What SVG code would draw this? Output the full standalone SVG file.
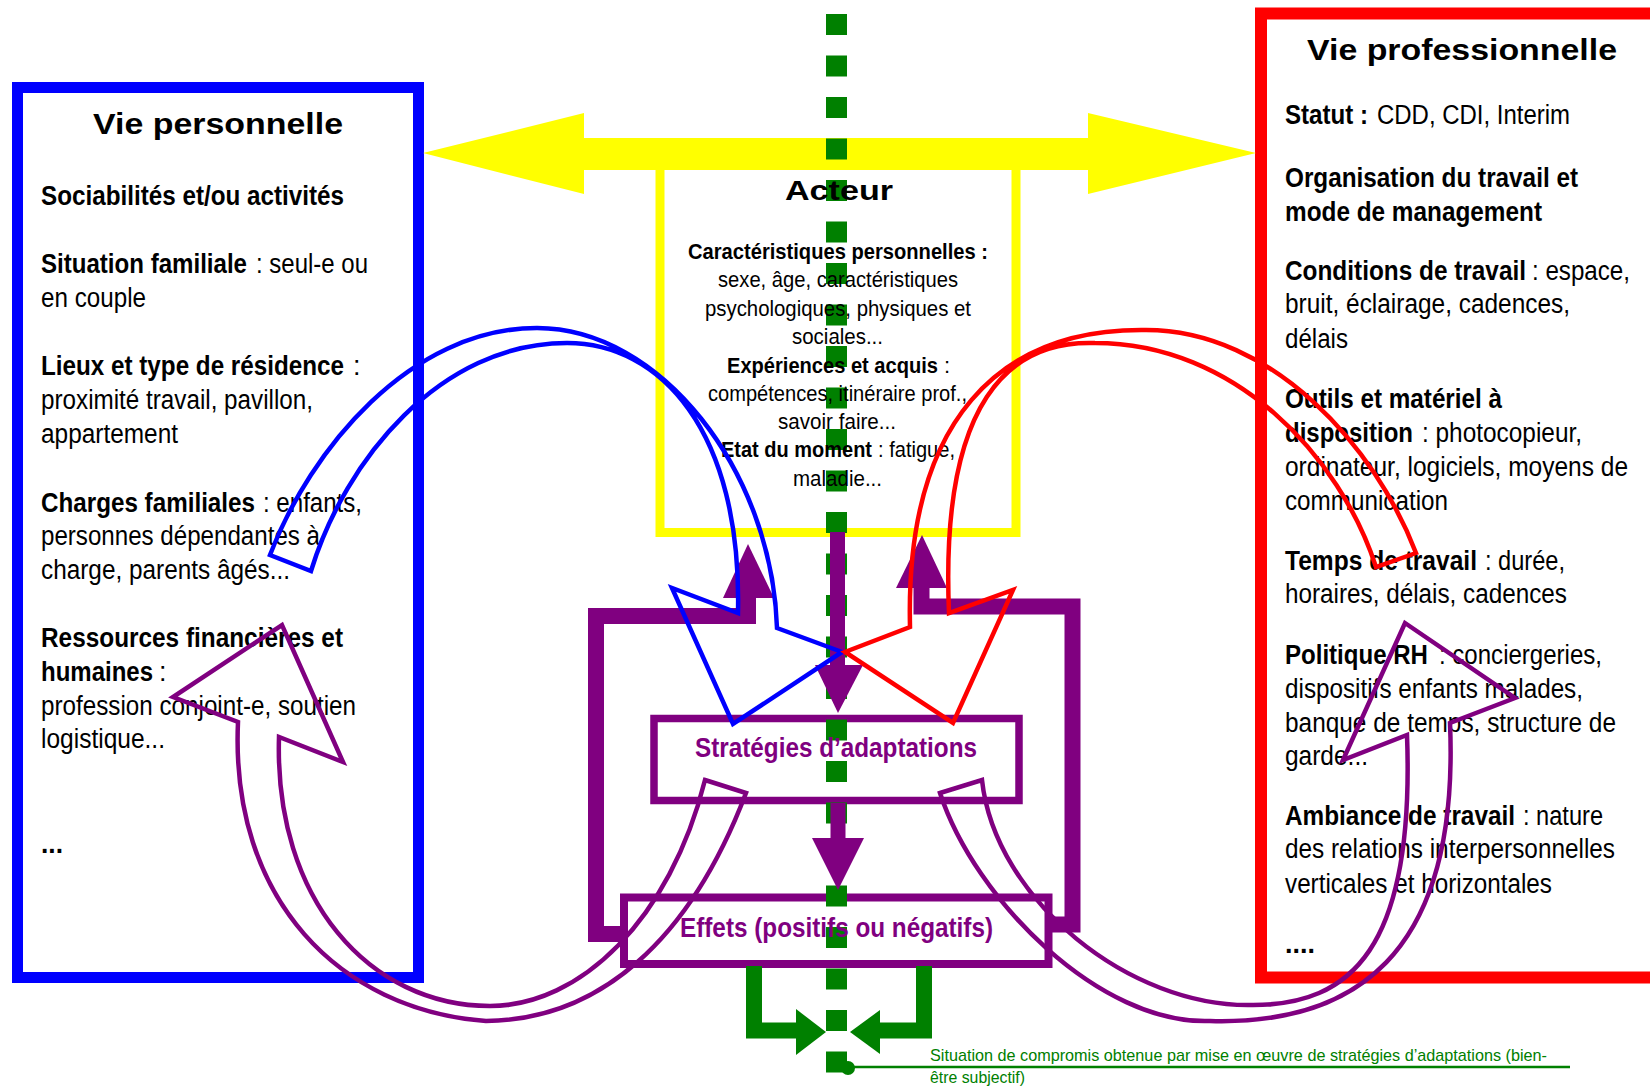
<svg xmlns="http://www.w3.org/2000/svg" width="1650" height="1086" viewBox="0 0 1650 1086">
<style>
.t{font-family:"Liberation Sans Narrow","Liberation Sans",Arial,sans-serif;font-size:27px;fill:#000}
.b{font-weight:bold}
.h{font-family:"Liberation Sans",Arial,sans-serif;font-weight:bold;font-size:29px;fill:#000}
.a{font-size:22px}
.p{fill:#800080;font-weight:bold;font-size:28px}
.g{fill:#008000;font-size:17px}
.box{fill:none}
.out{fill:none;stroke-width:4.5;stroke-linejoin:miter}
.thick{fill:none;stroke:#800080;stroke-width:16;stroke-linejoin:miter}
.gthick{fill:none;stroke:#008000;stroke-width:16;stroke-linejoin:miter}
</style>
<rect width="1650" height="1086" fill="#fff"/>

<g id="vie-personnelle">
<rect class="box" x="17.5" y="87.5" width="401" height="890" stroke="#0000FF" stroke-width="11"/>
</g>
<g id="vie-professionnelle">
<rect class="box" x="1261" y="13.5" width="410" height="964" stroke="#FF0000" stroke-width="12"/>
</g>
<g id="acteur">
<rect class="box" x="660" y="165.5" width="356" height="367" stroke="#FFFF00" stroke-width="9"/>
</g>

<g id="strategies">
<rect class="box" x="654" y="718.5" width="365" height="82" stroke="#800080" stroke-width="7.5"/>
</g>
<g id="effets">
<rect class="box" x="624" y="897.5" width="424.5" height="66.5" stroke="#800080" stroke-width="8"/>
</g>

<g id="connectors">
<polygon points="423,153 584,113 584,138 1088,138 1088,113 1256,153 1088,194 1088,170 584,170 584,194" fill="#FFFF00"/>
<polyline class="thick" points="748,597 748,616 596,616 596,934 624,934"/>
<polygon points="723,598 774,598 748,544" fill="#800080"/>
<polyline class="thick" points="921.5,588 921.5,606.5 1072.5,606.5 1072.5,924.5 1049,924.5"/>
<polygon points="896,588 947,588 922,535" fill="#800080"/>
<line x1="836.5" y1="14" x2="836.5" y2="1072.5" stroke="#008000" stroke-width="21" stroke-dasharray="21 20.5"/>
<line x1="837.5" y1="532" x2="837.5" y2="667" stroke="#800080" stroke-width="15"/>
<polygon points="815,665 863,665 838,713" fill="#800080"/>
<line x1="838" y1="803" x2="838" y2="840" stroke="#800080" stroke-width="15"/>
<polygon points="812,838 864,838 838,890" fill="#800080"/>
</g>

<g id="textes-personnelle">
<text class="h" x="93" y="134" textLength="250" lengthAdjust="spacingAndGlyphs">Vie personnelle</text>
<text class="t b" x="41" y="205" textLength="303" lengthAdjust="spacingAndGlyphs">Sociabilités et/ou activités</text>
<text class="t b" x="41" y="273" textLength="206" lengthAdjust="spacingAndGlyphs">Situation familiale</text>
<text class="t" x="256" y="273" textLength="112" lengthAdjust="spacingAndGlyphs">: seul-e ou</text>
<text class="t" x="41" y="307" textLength="105" lengthAdjust="spacingAndGlyphs">en couple</text>
<text class="t b" x="41" y="375" textLength="303" lengthAdjust="spacingAndGlyphs">Lieux et type de résidence</text>
<text class="t" x="353" y="375">:</text>
<text class="t" x="41" y="409" textLength="272" lengthAdjust="spacingAndGlyphs">proximité travail, pavillon,</text>
<text class="t" x="41" y="443" textLength="137" lengthAdjust="spacingAndGlyphs">appartement</text>
<text class="t b" x="41" y="512" textLength="214" lengthAdjust="spacingAndGlyphs">Charges familiales</text>
<text class="t" x="263" y="512" textLength="99" lengthAdjust="spacingAndGlyphs">: enfants,</text>
<text class="t" x="41" y="545" textLength="279" lengthAdjust="spacingAndGlyphs">personnes dépendantes à</text>
<text class="t" x="41" y="579" textLength="249" lengthAdjust="spacingAndGlyphs">charge, parents âgés...</text>
<text class="t b" x="41" y="647" textLength="302" lengthAdjust="spacingAndGlyphs">Ressources financières et</text>
<text class="t b" x="41" y="681" textLength="112" lengthAdjust="spacingAndGlyphs">humaines</text>
<text class="t" x="159" y="681">:</text>
<text class="t" x="41" y="715" textLength="315" lengthAdjust="spacingAndGlyphs">profession conjoint-e, soutien</text>
<text class="t" x="41" y="748" textLength="124" lengthAdjust="spacingAndGlyphs">logistique...</text>
<text class="t b" x="41" y="853" textLength="22" lengthAdjust="spacingAndGlyphs">...</text>
</g>

<g id="textes-professionnelle">
<text class="h" x="1307" y="60" textLength="310" lengthAdjust="spacingAndGlyphs">Vie professionnelle</text>
<text class="t b" x="1285" y="124" textLength="83" lengthAdjust="spacingAndGlyphs">Statut :</text>
<text class="t" x="1377" y="124" textLength="193" lengthAdjust="spacingAndGlyphs">CDD, CDI, Interim</text>
<text class="t b" x="1285" y="187" textLength="293" lengthAdjust="spacingAndGlyphs">Organisation du travail et</text>
<text class="t b" x="1285" y="221" textLength="257" lengthAdjust="spacingAndGlyphs">mode de management</text>
<text class="t b" x="1285" y="280" textLength="241" lengthAdjust="spacingAndGlyphs">Conditions de travail</text>
<text class="t" x="1532" y="280" textLength="98" lengthAdjust="spacingAndGlyphs">: espace,</text>
<text class="t" x="1285" y="313" textLength="285" lengthAdjust="spacingAndGlyphs">bruit, éclairage, cadences,</text>
<text class="t" x="1285" y="348" textLength="63" lengthAdjust="spacingAndGlyphs">délais</text>
<text class="t b" x="1285" y="408" textLength="217" lengthAdjust="spacingAndGlyphs">Outils et matériel à</text>
<text class="t b" x="1285" y="442" textLength="128" lengthAdjust="spacingAndGlyphs">disposition</text>
<text class="t" x="1422" y="442" textLength="160" lengthAdjust="spacingAndGlyphs">: photocopieur,</text>
<text class="t" x="1285" y="476" textLength="343" lengthAdjust="spacingAndGlyphs">ordinateur, logiciels, moyens de</text>
<text class="t" x="1285" y="510" textLength="163" lengthAdjust="spacingAndGlyphs">communication</text>
<text class="t b" x="1285" y="570" textLength="192" lengthAdjust="spacingAndGlyphs">Temps de travail</text>
<text class="t" x="1485" y="570" textLength="80" lengthAdjust="spacingAndGlyphs">: durée,</text>
<text class="t" x="1285" y="603" textLength="282" lengthAdjust="spacingAndGlyphs">horaires, délais, cadences</text>
<text class="t b" x="1285" y="664" textLength="143" lengthAdjust="spacingAndGlyphs">Politique RH</text>
<text class="t" x="1439" y="664" textLength="163" lengthAdjust="spacingAndGlyphs">: conciergeries,</text>
<text class="t" x="1285" y="698" textLength="298" lengthAdjust="spacingAndGlyphs">dispositifs enfants malades,</text>
<text class="t" x="1285" y="732" textLength="331" lengthAdjust="spacingAndGlyphs">banque de temps, structure de</text>
<text class="t" x="1285" y="765" textLength="83" lengthAdjust="spacingAndGlyphs">garde...</text>
<text class="t b" x="1285" y="825" textLength="230" lengthAdjust="spacingAndGlyphs">Ambiance de travail</text>
<text class="t" x="1523" y="825" textLength="80" lengthAdjust="spacingAndGlyphs">: nature</text>
<text class="t" x="1285" y="858" textLength="330" lengthAdjust="spacingAndGlyphs">des relations interpersonnelles</text>
<text class="t" x="1285" y="893" textLength="267" lengthAdjust="spacingAndGlyphs">verticales et horizontales</text>
<text class="t b" x="1285" y="953" textLength="30" lengthAdjust="spacingAndGlyphs">....</text>
</g>

<g id="textes-acteur">
<text class="h" x="785" y="200" style="font-size:28px" textLength="108" lengthAdjust="spacingAndGlyphs">Acteur</text>
<text class="t a b" x="688" y="259" textLength="300" lengthAdjust="spacingAndGlyphs">Caractéristiques personnelles :</text>
<text class="t a" x="718" y="287" textLength="240" lengthAdjust="spacingAndGlyphs">sexe, âge, caractéristiques</text>
<text class="t a" x="705" y="316" textLength="266" lengthAdjust="spacingAndGlyphs">psychologiques, physiques et</text>
<text class="t a" x="792" y="344" textLength="91" lengthAdjust="spacingAndGlyphs">sociales...</text>
<text class="t a b" x="727" y="373" textLength="211" lengthAdjust="spacingAndGlyphs">Expériences et acquis</text>
<text class="t a" x="944" y="373">:</text>
<text class="t a" x="708" y="401" textLength="259" lengthAdjust="spacingAndGlyphs">compétences, itinéraire prof.,</text>
<text class="t a" x="778" y="429" textLength="118" lengthAdjust="spacingAndGlyphs">savoir faire...</text>
<text class="t a b" x="721" y="457" textLength="151" lengthAdjust="spacingAndGlyphs">Etat du moment</text>
<text class="t a" x="878" y="457" textLength="77" lengthAdjust="spacingAndGlyphs">: fatigue,</text>
<text class="t a" x="793" y="486" textLength="89" lengthAdjust="spacingAndGlyphs">maladie...</text>
</g>

<g id="textes-strategies">
<text class="t p" x="695" y="757" textLength="282" lengthAdjust="spacingAndGlyphs">Stratégies d’adaptations</text>
<text class="t p" x="680" y="937" style="font-size:27px" textLength="313" lengthAdjust="spacingAndGlyphs">Effets (positifs ou négatifs)</text>
</g>

<g id="fleches-courbes">
<path class="out" stroke="#0000FF" d="M270,555 C310,450 410,328 537,328 C660,328 772,470 777,628 L842,652 L733,724 L672,588 L738,613 C742,430 660,343 567,343 C440,343 345,460 311,571 Z"/>
<path class="out" stroke="#FF0000" d="M1416,553 C1376,448 1273,330 1146,330 C1000,328 905,420 910,627 L845,652 L953,723 L1013,590 L949,613 C940,400 1010,340 1095,343 C1235,343 1340,456 1376,567 Z"/>
<path class="out" stroke="#800080" d="M705,780 L746,793 C690,940 600,1020 486,1021 C340,1010 230,900 238,722 L173,697 L282,625 L343,762 L279,737 C274,900 370,1006 490,1006 C580,1006 670,920 705,780 Z"/>
<path class="out" stroke="#800080" d="M940,793 L982,780 C995,900 1130,1008 1253,1005 C1350,1005 1415,950 1407,735 L1343,760 L1405,623 L1515,698 L1450,723 C1460,960 1350,1025 1210,1021 C1100,1025 975,900 940,793 Z"/>
</g>

<g id="compromis">
<polyline class="gthick" points="754,966 754,1030.5 798,1030.5"/>
<polygon points="796,1009 796,1055 826,1032" fill="#008000"/>
<polyline class="gthick" points="924,966 924,1030.5 878,1030.5"/>
<polygon points="880,1010 880,1054 850,1032" fill="#008000"/>
<circle cx="848" cy="1068" r="7" fill="#008000"/>
<line x1="848" y1="1067" x2="1570" y2="1067" stroke="#008000" stroke-width="2.5"/>
<text class="t g" x="930" y="1061" textLength="617" lengthAdjust="spacingAndGlyphs">Situation de compromis obtenue par mise en œuvre de stratégies d’adaptations (bien-</text>
<text class="t g" x="930" y="1083" textLength="95" lengthAdjust="spacingAndGlyphs">être subjectif)</text>
</g>
</svg>
